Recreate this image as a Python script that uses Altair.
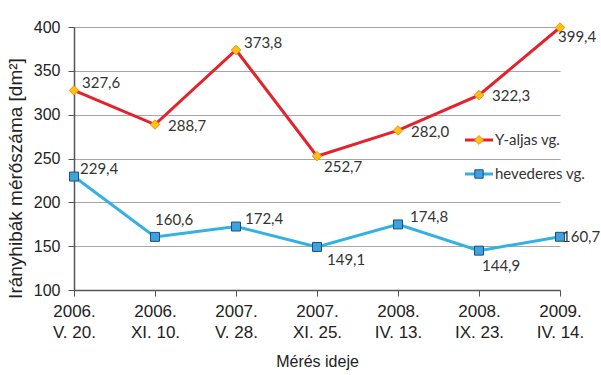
import altair as alt
import pandas as pd

# ---- data ----
years = ["2006.", "2006.", "2007.", "2007.", "2008.", "2008.", "2009."]
days = ["V. 20.", "XI. 10.", "V. 28.", "XI. 25.", "IV. 13.", "IX. 23.", "IV. 14."]
y_aljas = [327.6, 288.7, 373.8, 252.7, 282.0, 322.3, 399.4]
hevederes = [229.4, 160.6, 172.4, 149.1, 174.8, 144.9, 160.7]
series_names = ["Y-aljas vg.", "hevederes vg."]

# label offsets (layout only, pixels)
red_dx = [8, 13, 8, 7, 13, 13, -2]
red_dy = [-7, 1, -7, 11, 2, 1, 9]
blue_dx = [6, 0, 9, 10, 12, 3, 2]
blue_dy = [-8, -17, -8, 13, -7, 15, 0]

cats = [f"{a}\n{b}" for a, b in zip(years, days)]

def fmt(v):
    return f"{v:.1f}".replace(".", ",")

rows = []
for i, c in enumerate(cats):
    rows.append(dict(idx=i, cat=c, val=y_aljas[i], series=series_names[0], lab=fmt(y_aljas[i])))
    rows.append(dict(idx=i, cat=c, val=hevederes[i], series=series_names[1], lab=fmt(hevederes[i])))
df = pd.DataFrame(rows)

RED = "#E4222B"
BLUE = "#33B1E3"
DIAMOND_FILL = "#FFC20E"
DIAMOND_STROKE = "#F08A1C"
SQUARE_FILL = "#3DA3E0"
SQUARE_STROKE = "#1E4C80"

AXIS_FONT = "Liberation Sans"
LABEL_FONT = "Lato"

x_enc = alt.X(
    "cat:N",
    sort=cats,
    scale=alt.Scale(type="point", padding=0),
    axis=alt.Axis(
        title="Mérés ideje",
        labelExpr="split(datum.label, '\\n')",
        labelAngle=0,
        labelFont=AXIS_FONT,
        labelFontSize=17,
        labelLineHeight=21,
        labelColor="#222222",
        labelPadding=7,
        tickSize=6,
        tickColor="#555555",
        domainColor="#555555",
        domainWidth=1.5,
        grid=False,
        titleFont=AXIS_FONT,
        titleFontSize=16,
        titleFontWeight="normal",
        titleColor="#222222",
        titlePadding=13,
    ),
)
y_enc = alt.Y(
    "val:Q",
    scale=alt.Scale(domain=[100, 400], nice=False, zero=False),
    axis=alt.Axis(
        title="Irányhibák mérőszáma [dm²]",
        values=[100, 150, 200, 250, 300, 350, 400],
        labelFont=AXIS_FONT,
        labelFontSize=16,
        labelColor="#222222",
        labelPadding=8,
        tickSize=6,
        tickColor="#555555",
        domainColor="#555555",
        domainWidth=1.5,
        grid=True,
        gridColor="#A6A6A6",
        gridWidth=1,
        titleFont=AXIS_FONT,
        titleFontSize=19,
        titleFontWeight="normal",
        titleColor="#222222",
        titlePadding=8,
        titleY=151,
    ),
)

base = alt.Chart(df)

red = base.transform_filter(alt.datum.series == series_names[0])
blue = base.transform_filter(alt.datum.series == series_names[1])

red_line = red.mark_line(color=RED, strokeWidth=3).encode(x=x_enc, y=y_enc)
blue_line = blue.mark_line(color=BLUE, strokeWidth=3).encode(x=x_enc, y=y_enc)
red_pts = red.mark_point(shape="diamond", size=90, filled=True, fill=DIAMOND_FILL,
                         stroke=DIAMOND_STROKE, strokeWidth=1, opacity=1).encode(x=x_enc, y=y_enc)
blue_pts = blue.mark_point(shape="square", size=80, filled=True, fill=SQUARE_FILL,
                           stroke=SQUARE_STROKE, strokeWidth=1, opacity=1).encode(x=x_enc, y=y_enc)

label_layers = []
for s, dxs, dys in ((series_names[0], red_dx, red_dy), (series_names[1], blue_dx, blue_dy)):
    for i in range(len(cats)):
        label_layers.append(
            base.transform_filter((alt.datum.series == s) & (alt.datum.idx == i))
            .mark_text(align="left", baseline="middle", font=LABEL_FONT, fontSize=15,
                       color="#333333", dx=dxs[i], dy=dys[i])
            .encode(x=x_enc, y=y_enc, text="lab:N")
        )

# manual legend
def legend_item(name, color, shape, size, fill, stroke, ypix):
    d = pd.DataFrame({"series": [name]})
    b = alt.Chart(d)
    ln = b.mark_rule(color=color, strokeWidth=3).encode(
        x=alt.value(391), x2=alt.value(419), y=alt.value(ypix))
    pt = b.mark_point(shape=shape, size=size, filled=True, fill=fill, stroke=stroke,
                      strokeWidth=1, opacity=1).encode(x=alt.value(405), y=alt.value(ypix))
    tx = b.mark_text(align="left", baseline="middle", font=LABEL_FONT, fontSize=15,
                     color="#333333").encode(x=alt.value(421), y=alt.value(ypix), text="series:N")
    return ln + pt + tx

leg_red = legend_item(series_names[0], RED, "diamond", 80, DIAMOND_FILL, DIAMOND_STROKE, 113)
leg_blue = legend_item(series_names[1], BLUE, "square", 70, SQUARE_FILL, SQUARE_STROKE, 147)

chart = alt.layer(red_line, blue_line, red_pts, blue_pts, *label_layers, leg_red, leg_blue).properties(
    width=486,
    height=263,
    autosize=alt.AutoSizeParams(type="none"),
    padding={"left": 74, "top": 27, "right": 41, "bottom": 85},
    background="white",
).configure_view(stroke=None)

chart.save("out.html", embed_options={"renderer": "svg", "actions": False})
